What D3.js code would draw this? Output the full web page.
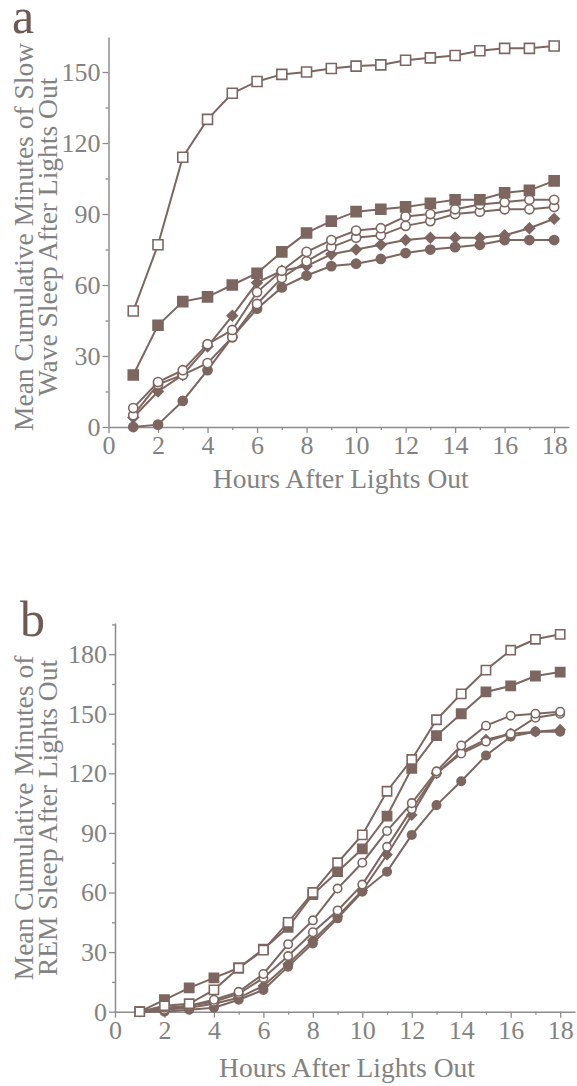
<!DOCTYPE html>
<html>
<head>
<meta charset="utf-8">
<script src="https://cdn.jsdelivr.net/npm/d3@7"></script>
<style>
  body { margin: 0; background: #ffffff; }
  svg { display: block; }
</style>
</head>
<body>
<svg id="chart" width="577" height="1086"></svg>
<script>
// Hours after lights out (shared by both panels)
const hours = [1, 2, 3, 4, 5, 6, 7, 8, 9, 10, 11, 12, 13, 14, 15, 16, 17, 18];
const xTicks = [0, 2, 4, 6, 8, 10, 12, 14, 16, 18];
const xMinorTicks = [1, 3, 5, 7, 9, 11, 13, 15, 17];

// Panel a: slow wave sleep
const swsYTicks = [0, 30, 60, 90, 120, 150];
const swsYMinorTicks = [15, 45, 75, 105, 135, 165];
const swsOpenSquare   = [49, 77, 114, 130, 141, 146, 149, 150, 151.5, 152.5, 153, 155, 156, 157, 159, 160, 160, 161];
const swsFilledSquare = [22, 43, 53, 55, 60, 65, 74, 82, 87, 91, 92, 93, 94.5, 96, 96, 99, 100, 104];
const swsOpenCircleA  = [8, 19, 24, 35, 41, 57, 66, 74, 79, 83, 84, 89, 90, 92, 94, 95, 96, 96];
const swsOpenCircleB  = [5, 18, 22, 27, 38, 52, 63, 70, 76, 80, 81, 85, 87, 90, 91, 92, 92, 93];
const swsDiamond      = [4, 15, 22, 34, 47, 61, 66, 68, 73, 75, 77, 79, 80, 80, 80, 81, 84, 88];
const swsFilledCircle = [0, 1, 11, 24, 38, 50, 59, 64, 68, 69, 71, 73.5, 75, 76, 77, 79, 79, 79];

// Panel b: REM sleep
const remYTicks = [0, 30, 60, 90, 120, 150, 180];
const remYMinorTicks = [15, 45, 75, 105, 135, 165, 195];
const remOpenSquare   = [0, 3, 4, 11, 22, 31, 45, 60, 75, 89, 111, 127, 147, 160, 172, 182, 187.5, 190];
const remFilledSquare = [0, 6, 12, 17, 22, 31.5, 42.5, 59, 70.5, 82, 98.5, 122.5, 139, 150, 161, 164, 169, 171];
const remOpenCircleA  = [0, 2, 3, 6, 10, 19, 34, 46, 62, 75, 91, 105, 121, 134, 144, 149, 150, 151];
const remOpenCircleB  = [0, 1, 3, 5, 9, 17, 28, 40, 51, 64, 83, 102, 120, 130, 136, 140, 148, 150];
const remDiamond      = [0, 1, 2, 4, 7, 13, 24, 36, 48, 61, 79, 99, 120, 131, 137, 140, 141, 142];
const remFilledCircle = [0, 0, 1, 2, 6, 11, 22.7, 34.4, 47, 60.4, 70.5, 89, 104, 116, 129, 138.5, 141, 141];

// Styling
const markColor = "#7d6660";
const axisColor = "#8c8c8c";
const textColor = "#828282";
const letterColor = "#6e5a55";
const serif = "'Liberation Serif', 'Times New Roman', serif";

const svg = d3.select("#chart");

// Marker kinds: symbol type, area, rotation, filled or not
const markers = {
    openSquare:   { type: d3.symbolSquare, size: 100, rotate: 0,  filled: false },
    filledSquare: { type: d3.symbolSquare, size: 100, rotate: 0,  filled: true },
    openCircle:   { type: d3.symbolCircle, size: 66,  rotate: 0,  filled: false },
    diamond:      { type: d3.symbolSquare, size: 52,  rotate: 45, filled: true },
    filledCircle: { type: d3.symbolCircle, size: 66,  rotate: 0,  filled: true }
};

function drawPanel(cfg) {

    // Scales
    let x = d3.scaleLinear().domain([0, 18.6]).range([cfg.left, cfg.right]);
    let y = d3.scaleLinear().domain([0, cfg.yMax]).range([cfg.bottom, cfg.top]);

    let g = svg.append("g");

    // X axis (major + minor ticks)
    g.append("g")
        .attr("transform", "translate(0," + cfg.bottom + ")")
        .call(d3.axisBottom(x).tickValues(xTicks).tickSize(6).tickPadding(3).tickSizeOuter(0));
    g.append("g")
        .attr("transform", "translate(0," + cfg.bottom + ")")
        .call(d3.axisBottom(x).tickValues(xMinorTicks).tickSize(3).tickFormat("").tickSizeOuter(0))
        .select(".domain").remove();

    // Y axis (major + minor ticks)
    g.append("g")
        .attr("transform", "translate(" + cfg.left + ",0)")
        .call(d3.axisLeft(y).tickValues(cfg.yTicks).tickSize(6).tickPadding(2).tickSizeOuter(0));
    g.append("g")
        .attr("transform", "translate(" + cfg.left + ",0)")
        .call(d3.axisLeft(y).tickValues(cfg.yMinorTicks.filter(v => v <= cfg.yMax)).tickSize(3).tickFormat("").tickSizeOuter(0))
        .select(".domain").remove();

    g.selectAll(".domain").attr("stroke", axisColor).attr("stroke-width", 1.5);
    g.selectAll(".tick line").attr("stroke", axisColor).attr("stroke-width", 1.3);
    g.selectAll(".tick text")
        .attr("fill", textColor)
        .style("font-family", serif)
        .style("font-size", "26px");

    // Axis titles
    g.append("text")
        .attr("x", (cfg.left + cfg.right) / 2 + 2)
        .attr("y", cfg.xTitleY)
        .attr("text-anchor", "middle")
        .attr("fill", textColor)
        .style("font-family", serif)
        .style("font-size", "27.5px")
        .text("Hours After Lights Out");

    cfg.yTitle.forEach((line, i) => {
        g.append("text")
            .attr("transform", "translate(" + (33 + i * 24) + "," + cfg.yTitleCenter + ") rotate(-90)")
            .attr("text-anchor", "middle")
            .attr("fill", textColor)
            .style("font-family", serif)
            .style("font-size", "27.5px")
            .text(line);
    });

    // Panel letter
    g.append("text")
        .attr("x", cfg.letterX)
        .attr("y", cfg.letterY)
        .attr("fill", letterColor)
        .style("font-family", serif)
        .style("font-size", "50px")
        .text(cfg.letter);

    // Series lines and markers
    let line = d3.line().x((d, i) => x(hours[i])).y(d => y(d));
    for (let s of cfg.series) {
        let m = markers[s.marker];
        g.append("path")
            .attr("d", line(s.values))
            .attr("fill", "none")
            .attr("stroke", markColor)
            .attr("stroke-width", 2);

        g.append("g")
            .selectAll("path")
            .data(s.values)
            .join("path")
            .attr("transform", (d, i) => "translate(" + x(hours[i]) + "," + y(d) + ") rotate(" + m.rotate + ")")
            .attr("d", d3.symbol().type(m.type).size(m.size * cfg.markScale))
            .attr("fill", m.filled ? markColor : "#ffffff")
            .attr("stroke", markColor)
            .attr("stroke-width", 1.6);
    }
}

// Panel a
drawPanel({
    letter: "a", letterX: 12, letterY: 33,
    left: 108.5, right: 569, top: 37, bottom: 427, yMax: 164.8,
    yTicks: swsYTicks, yMinorTicks: swsYMinorTicks,
    xTitleY: 488, yTitleCenter: 237,
    yTitle: ["Mean Cumulative Minutes of Slow", "Wave Sleep After Lights Out"],
    markScale: 1,
    series: [
        { values: swsFilledCircle, marker: "filledCircle" },
        { values: swsDiamond, marker: "diamond" },
        { values: swsOpenCircleB, marker: "openCircle" },
        { values: swsOpenCircleA, marker: "openCircle" },
        { values: swsFilledSquare, marker: "filledSquare" },
        { values: swsOpenSquare, marker: "openSquare" }
    ]
});

// Panel b
drawPanel({
    letter: "b", letterX: 20, letterY: 636,
    left: 115, right: 575, top: 623, bottom: 1011.7, yMax: 195.7,
    yTicks: remYTicks, yMinorTicks: remYMinorTicks,
    xTitleY: 1077, yTitleCenter: 818,
    yTitle: ["Mean Cumulative Minutes of", "REM Sleep After Lights Out"],
    markScale: 0.85,
    series: [
        { values: remFilledCircle, marker: "filledCircle" },
        { values: remDiamond, marker: "diamond" },
        { values: remOpenCircleB, marker: "openCircle" },
        { values: remOpenCircleA, marker: "openCircle" },
        { values: remFilledSquare, marker: "filledSquare" },
        { values: remOpenSquare, marker: "openSquare" }
    ]
});
</script>
</body>
</html>
